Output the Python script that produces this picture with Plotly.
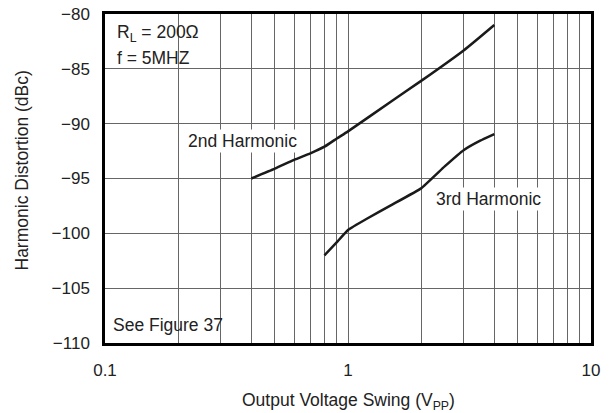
import plotly.graph_objects as go

# Data
x_2nd = [0.4, 0.5, 0.6, 0.7, 0.8, 0.9, 1.0, 1.5, 2.0, 3.0, 4.0]
y_2nd = [-95.0, -94.1, -93.3, -92.7, -92.1, -91.35, -90.7, -88.0, -86.1, -83.3, -81.0]
x_3rd = [0.8, 0.9, 1.0, 1.2, 1.5, 2.0, 2.5, 3.0, 3.5, 4.0]
y_3rd = [-102.0, -100.8, -99.7, -98.65, -97.45, -95.9, -93.9, -92.4, -91.55, -90.95]

y_ticks = [-80, -85, -90, -95, -100, -105, -110]
y_ticklabels = ["\u221280", "\u221285", "\u221290", "\u221295", "\u2212100", "\u2212105", "\u2212110"]
x_ticks = [0.1, 1, 10]
x_ticklabels = ["0.1", "1", "10"]

FONT = "Liberation Sans, Arial, sans-serif"
TXT = "#222222"

fig = go.Figure()
fig.add_trace(go.Scatter(x=x_2nd, y=y_2nd, mode="lines",
                         line=dict(color="#1a1a1a", width=2.5, shape="spline", smoothing=0.5),
                         showlegend=False))
fig.add_trace(go.Scatter(x=x_3rd, y=y_3rd, mode="lines",
                         line=dict(color="#1a1a1a", width=2.5, shape="spline", smoothing=0.3),
                         showlegend=False))

fig.update_xaxes(
    type="log", range=[-1, 1], automargin=False,
    tickvals=x_ticks, ticktext=x_ticklabels, ticks="", ticklabelstandoff=10,
    showgrid=True, gridcolor="#666666", gridwidth=1,
    minor=dict(showgrid=True, gridcolor="#666666", gridwidth=1, dtick="D1", ticks=""),
    showline=True, linecolor="black", linewidth=2.5, mirror=True,
    tickfont=dict(family=FONT, size=17, color=TXT),
    zeroline=False,
)
fig.update_yaxes(
    range=[-110, -80], automargin=False,
    tickvals=y_ticks, ticktext=y_ticklabels, ticks="", ticklabelstandoff=9,
    showgrid=True, gridcolor="#666666", gridwidth=1,
    showline=True, linecolor="black", linewidth=2.5, mirror=True,
    tickfont=dict(family=FONT, size=17, color=TXT),
    zeroline=False,
)

# Axis titles
fig.add_annotation(x=0.5, y=-0.179, xref="paper", yref="paper",
                   text="Output Voltage Swing (V<sub>PP</sub>)", showarrow=False,
                   xanchor="center", yanchor="middle", font=dict(family=FONT, size=17.5, color=TXT))
fig.add_annotation(x=-0.171, y=0.524, xref="paper", yref="paper", textangle=-90,
                   text="Harmonic Distortion (dBc)", showarrow=False,
                   xanchor="center", yanchor="middle", font=dict(family=FONT, size=17.5, color=TXT))

ann_font = dict(family=FONT, size=17.5, color=TXT)
fig.add_annotation(x=-0.957, y=-81.75, xref="x", yref="y", text="R<sub>L</sub> = 200\u03a9", showarrow=False,
                   xanchor="left", yanchor="middle", font=ann_font)
fig.add_annotation(x=-0.957, y=-84.0, xref="x", yref="y", text="f = 5MHZ", showarrow=False,
                   xanchor="left", yanchor="middle", font=ann_font)
fig.add_annotation(x=-0.975, y=-108.35, xref="x", yref="y", text="See Figure 37", showarrow=False,
                   xanchor="left", yanchor="middle", font=ann_font)
fig.add_annotation(x=-0.666, y=-91.58, xref="x", yref="y", text="2nd Harmonic", showarrow=False,
                   xanchor="left", yanchor="middle", font=ann_font, bgcolor="white")
fig.add_annotation(x=0.354, y=-96.86, xref="x", yref="y", text="3rd Harmonic", showarrow=False,
                   xanchor="left", yanchor="middle", font=ann_font, bgcolor="white")

fig.update_layout(
    width=613, height=413,
    margin=dict(l=105, r=22, t=14, b=70),
    plot_bgcolor="white", paper_bgcolor="white",
)

# Remove the default 8px page margin so the figure fills the window exactly.
fig.write_html("out.html",
               config={"displayModeBar": False},
               post_script="document.body.style.margin='0';document.body.style.overflow='hidden';")
